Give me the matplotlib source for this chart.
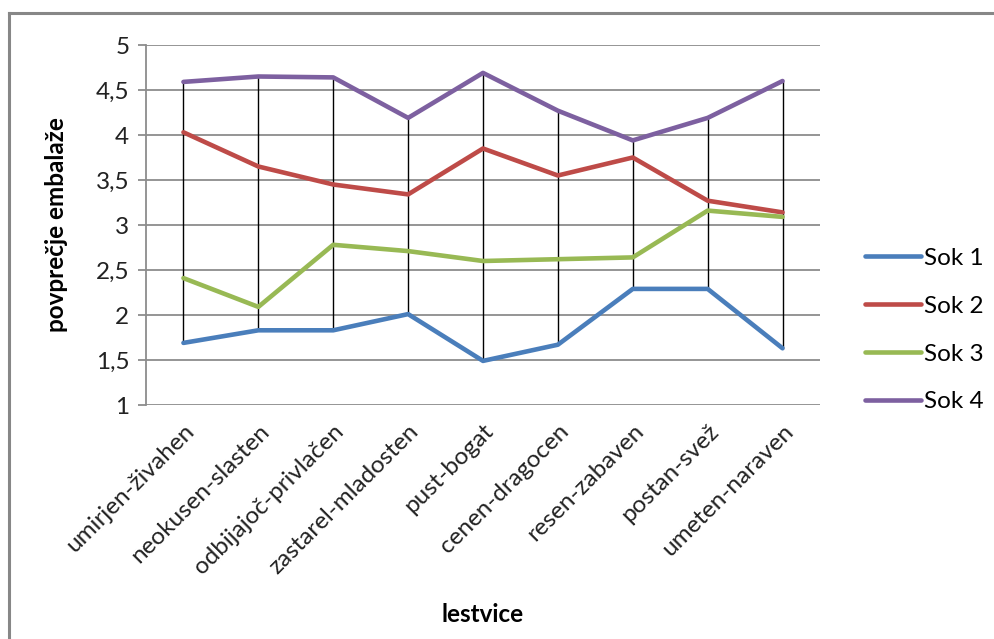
import numpy as np
import matplotlib
matplotlib.use("Agg")
import matplotlib.pyplot as plt
from matplotlib.lines import Line2D

plt.rcParams['font.family'] = ['Lato', 'DejaVu Sans']

lestvice = ["umirjen-živahen", "neokusen-slasten", "odbijajoč-privlačen",
            "zastarel-mladosten", "pust-bogat", "cenen-dragocen",
            "resen-zabaven", "postan-svež", "umeten-naraven"]
sok1 = [1.69, 1.83, 1.83, 2.01, 1.49, 1.67, 2.29, 2.29, 1.63]
sok2 = [4.03, 3.65, 3.45, 3.34, 3.85, 3.55, 3.75, 3.27, 3.14]
sok3 = [2.41, 2.09, 2.78, 2.71, 2.60, 2.62, 2.64, 3.16, 3.09]
sok4 = [4.59, 4.65, 4.64, 4.19, 4.69, 4.27, 3.94, 4.19, 4.60]
names = ["Sok 1", "Sok 2", "Sok 3", "Sok 4"]
yticks = [1, 1.5, 2, 2.5, 3, 3.5, 4, 4.5, 5]
ytick_labels = ["1", "1,5", "2", "2,5", "3", "3,5", "4", "4,5", "5"]

colors = ["#4A7EBB", "#BE4B48", "#98B954", "#7D60A0"]
grid_col = "#8c8c8c"
fs = 17.5

fig = plt.figure(figsize=(9.94, 6.39), dpi=100)
ax = fig.add_axes([146/994, 1-405/639, 674/994, 360/639])

x = np.arange(len(lestvice))
allvals = np.array([sok1, sok2, sok3, sok4])
# high-low lines
ax.vlines(x, allvals.min(axis=0), allvals.max(axis=0), color="black", lw=1.0, zorder=2)

for vals, name, c in zip([sok1, sok2, sok3, sok4], names, colors):
    ax.plot(x, vals, color=c, lw=3.3, label=name, zorder=3, solid_capstyle="round")

ax.set_xlim(-0.5, len(lestvice) - 0.5)
ax.set_ylim(1, 5)
ax.set_yticks(yticks)
ax.set_yticklabels(ytick_labels, fontsize=fs, color="#222222")
ax.yaxis.grid(True, color=grid_col, lw=1.3)
ax.set_axisbelow(True)
for s in ["top", "right", "bottom"]:
    ax.spines[s].set_visible(False)
ax.spines["left"].set_color(grid_col)
ax.spines["left"].set_linewidth(1.3)
ax.tick_params(axis="y", length=6, width=1.3, color=grid_col, pad=6)
ax.tick_params(axis="x", length=0, pad=11)

ax.set_xticks(x)
ax.set_xticklabels(lestvice, rotation=45, ha="right", rotation_mode="anchor",
                   fontsize=fs, color="#222222")

ax.set_xlabel("lestvice", fontsize=fs, fontweight="bold", labelpad=18)
ax.set_ylabel("povprečje embalaže", fontsize=fs, fontweight="bold", labelpad=20)

ax.legend(loc="center left", bbox_to_anchor=(1.034, 0.208), frameon=False,
          fontsize=fs, handlelength=2.3, handletextpad=0.15, labelspacing=1.1)

# outer chart border
fig.add_artist(Line2D([9/994, 9/994], [0, 1-13/639], color="#878787", lw=2.2))
fig.add_artist(Line2D([9/994, 1], [1-13/639, 1-13/639], color="#878787", lw=2.2))

fig.savefig("out.png", dpi=100)
